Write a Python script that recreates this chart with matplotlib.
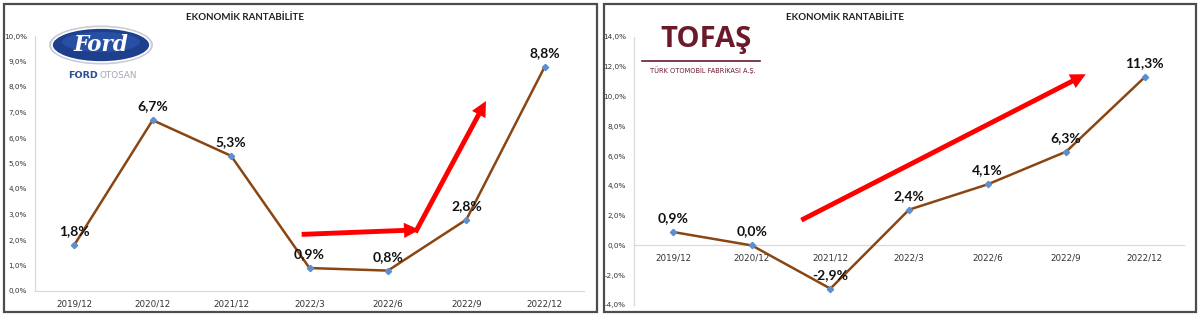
"""
Ekonomik rantabilite karşılaştırması: Ford Otosan ve Tofaş.
İki panel yan yana, her biri kendi çerçevesi ve logosuyla.
"""

import matplotlib.pyplot as plt
from matplotlib.patches import Ellipse, Rectangle, FancyArrowPatch
from matplotlib.ticker import FuncFormatter

kategoriler = ["2019/12", "2020/12", "2021/12", "2022/3", "2022/6", "2022/9", "2022/12"]
ford_otosan = [1.8, 6.7, 5.3, 0.9, 0.8, 2.8, 8.8]
tofas = [0.9, 0.0, -2.9, 2.4, 4.1, 6.3, 11.3]

baslik = "EKONOMİK RANTABİLİTE"
ford_yticks = [0, 1, 2, 3, 4, 5, 6, 7, 8, 9, 10]
tofas_yticks = [-4, -2, 0, 2, 4, 6, 8, 10, 12, 14]

W, H = 1200, 322
CIZGI = "#8a4612"
NOKTA = "#5b8fd0"
OK_RENGI = "#ff0000"
OK_STILI = "simple,head_length=1.1,head_width=1.1,tail_width=0.35"


def yuzde(v, _=None):
    return f"{v:.1f}%".replace(".", ",")


def px_eksen(fig, x0, y_ust, x1, y_alt):
    # piksel koordinatlarından eksen kutusu
    return fig.add_axes([x0 / W, 1 - y_alt / H, (x1 - x0) / W, (y_alt - y_ust) / H])


def ciz_seri(ax, degerler, yticks, sifir_ekseni=False):
    x = range(len(kategoriler))
    ax.plot(x, degerler, color=CIZGI, lw=1.8, zorder=3, solid_capstyle="round")
    ax.plot(x, degerler, ls="none", marker="D", ms=3.2, color=NOKTA, zorder=4)
    for xi, v in zip(x, degerler):
        ax.annotate(yuzde(v), (xi, v), xytext=(0, 10), textcoords="offset points",
                    ha="center", va="center", fontsize=10, fontweight="bold",
                    family="Lato", color="#111111", zorder=5)

    if sifir_ekseni:
        ax.spines["bottom"].set_position(("data", 0))
    ax.set_xlim(-0.5, len(kategoriler) - 0.5)
    ax.set_ylim(yticks[0], yticks[-1])
    ax.set_xticks(list(x))
    ax.set_xticklabels(kategoriler, fontsize=6.3, color="#333333")
    ax.set_yticks(yticks)
    ax.yaxis.set_major_formatter(FuncFormatter(yuzde))
    ax.tick_params(axis="y", labelsize=5.2, colors="#333333", length=0, pad=6)
    ax.tick_params(axis="x", length=0, pad=6, labelsize=6.3)
    for s in ("top", "right"):
        ax.spines[s].set_visible(False)
    for s in ("left", "bottom"):
        ax.spines[s].set_color("#d9d9d9")
        ax.spines[s].set_linewidth(0.9)
    ax.patch.set_alpha(0)


def ok(ax, bas, son):
    ax.add_patch(FancyArrowPatch(bas, son, arrowstyle=OK_STILI, mutation_scale=10,
                                 color=OK_RENGI, lw=0, zorder=6, clip_on=False,
                                 shrinkA=0, shrinkB=0))


fig = plt.figure(figsize=(W / 100, H / 100), dpi=100)
fig.patch.set_facecolor("white")

# panel çerçeveleri
for x0, x1 in ((4, 597), (604, 1196)):
    fig.patches.append(Rectangle((x0 / W, 1 - 312 / H), (x1 - x0) / W, 308 / H,
                                 transform=fig.transFigure, fill=False,
                                 ec="#4d4d4d", lw=1.6))

# sol panel: Ford Otosan
ax1 = px_eksen(fig, 35, 36, 584, 291)
ciz_seri(ax1, ford_otosan, ford_yticks)
ok(ax1, (2.9, 2.22), (4.4, 2.4))
ok(ax1, (4.35, 2.3), (5.25, 7.45))
fig.text(245 / W, 1 - 17 / H, baslik, ha="center", va="center", fontsize=7,
         fontweight="bold", family="Lato", color="#222222")

# Ford logosu
fig.patches.append(Ellipse((101 / W, 1 - 45 / H), 104 / W, 39 / H, transform=fig.transFigure,
                           fc="#c8ccd4", ec="none"))
fig.patches.append(Ellipse((101 / W, 1 - 45 / H), 98 / W, 34 / H, transform=fig.transFigure,
                           fc="#1d3f8c", ec="white", lw=1.2))
fig.patches.append(Ellipse((101 / W, 1 - 42 / H), 78 / W, 20 / H, transform=fig.transFigure,
                           fc="#2f5bb3", ec="none", alpha=0.6))
fig.text(101 / W, 1 - 45 / H, "Ford", ha="center", va="center", fontsize=15.5,
         family="DejaVu Serif", style="italic", fontweight="bold", color="white")
fig.text(98 / W, 1 - 76 / H, "FORD", ha="right", va="center", fontsize=6.8,
         fontweight="bold", color="#2b4c9b")
fig.text(100 / W, 1 - 76 / H, "OTOSAN", ha="left", va="center", fontsize=6.3,
         color="#a0a6b3")

# sağ panel: Tofaş
ax2 = px_eksen(fig, 634, 37, 1184, 305)
ciz_seri(ax2, tofas, tofas_yticks, sifir_ekseni=True)
ok(ax2, (1.63, 1.7), (5.25, 11.5))
fig.text(845 / W, 1 - 17 / H, baslik, ha="center", va="center", fontsize=7,
         fontweight="bold", family="Lato", color="#222222")

# Tofaş logosu
fig.text(706 / W, 1 - 39 / H, "TOFAŞ", ha="center", va="center", fontsize=21,
         fontweight="bold", family="Open Sans", color="#6b1a2c")
fig.add_artist(plt.Line2D([642 / W, 760 / W], [1 - 61 / H, 1 - 61 / H],
                          transform=fig.transFigure, color="#6b1a2c", lw=1.2))
fig.text(703 / W, 1 - 70 / H, "TÜRK OTOMOBİL FABRİKASI A.Ş.", ha="center", va="center",
         fontsize=4.8, color="#6b1a2c")

fig.savefig("out.png", dpi=100)
